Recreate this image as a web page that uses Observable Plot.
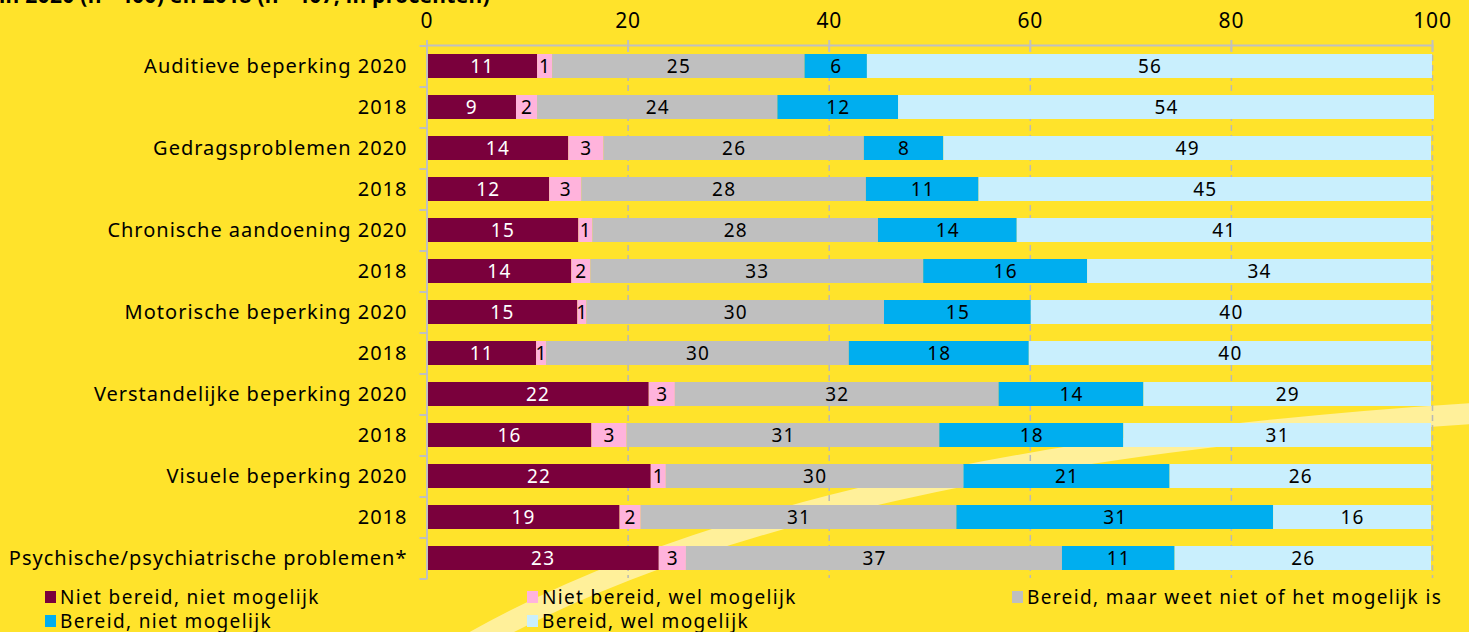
<!DOCTYPE html>
<html>
<head>
<meta charset="utf-8">
<script src="https://cdn.jsdelivr.net/npm/d3@7"></script>
<script src="https://cdn.jsdelivr.net/npm/@observablehq/plot@0.6"></script>
<style>
  html, body { margin: 0; padding: 0; background: #FFE32B; width: 1469px; height: 632px; overflow: hidden; font-family: "Noto Sans", sans-serif; }
  #wrap { position: relative; width: 1469px; height: 632px; }
  #deco { position: absolute; left: 0; top: 0; }
  #title { position: absolute; left: -1px; top: -15px; font-weight: bold; font-size: 21px; line-height: 21px; letter-spacing: 0.3px; color: #000; white-space: nowrap; }
  #chart { position: absolute; left: 0; top: 0; }
  .lg { position: absolute; font-size: 19px; line-height: 20px; height: 20px; letter-spacing: 1.35px; color: #000; white-space: nowrap; display: flex; align-items: center; }
  .sw { display: inline-block; width: 11px; height: 12px; margin-right: 4px; }
  #chart g[aria-label="y-axis tick label"] text { letter-spacing: 1.0px; }
  #chart g[aria-label="x-axis tick label"] text { letter-spacing: 0.8px; }
  #chart g[aria-label="text"] text { letter-spacing: 1.2px; }
</style>
</head>
<body>
<div id="wrap">
  <svg id="deco" width="1469" height="632"><path d="M 468 645 Q 800 455 1480 413" fill="none" stroke="#FFF09A" stroke-width="21"/></svg>
  <div id="title">in 2020 (n= 400) en 2018 (n= 407, in procenten)</div>
  <div id="chart"></div>
  <div id="legend"></div>
</div>
<script>
// Row labels (top to bottom)
const rowLabels = [
  "Auditieve beperking 2020", "2018",
  "Gedragsproblemen 2020", "2018",
  "Chronische aandoening 2020", "2018",
  "Motorische beperking 2020", "2018",
  "Verstandelijke beperking 2020", "2018",
  "Visuele beperking 2020", "2018",
  "Psychische/psychiatrische problemen*"
];

// Series names
const seriesNames = [
  "Niet bereid, niet mogelijk",
  "Niet bereid, wel mogelijk",
  "Bereid, maar weet niet of het mogelijk is",
  "Bereid, niet mogelijk",
  "Bereid, wel mogelijk"
];
const seriesColors = ["#7A003C", "#FFB3DC", "#BFBFBF", "#00AEEF", "#C9EFFD"];

// Bar lengths (percent, as drawn)
const nietNiet   = [11.0, 8.9, 14.1, 12.2, 15.1, 14.4, 15.0, 10.9, 22.1, 16.4, 22.3, 19.2, 23.1];
const nietWel    = [1.5, 2.1, 3.5, 3.2, 1.4, 1.9, 0.9, 1.0, 2.6, 3.5, 1.5, 2.1, 2.7];
const weetNiet   = [25.1, 23.9, 25.9, 28.3, 28.4, 33.1, 29.6, 30.1, 32.2, 31.1, 29.6, 31.4, 37.4];
const bereidNiet = [6.2, 12.0, 7.9, 11.2, 13.8, 16.3, 14.6, 17.9, 14.4, 18.3, 20.5, 31.5, 11.2];
const bereidWel  = [56.2, 53.3, 48.5, 45.0, 41.2, 34.2, 39.8, 40.0, 28.6, 30.6, 26.0, 15.7, 25.5];

// Printed (rounded) labels
const lblNietNiet   = [11, 9, 14, 12, 15, 14, 15, 11, 22, 16, 22, 19, 23];
const lblNietWel    = [1, 2, 3, 3, 1, 2, 1, 1, 3, 3, 1, 2, 3];
const lblWeetNiet   = [25, 24, 26, 28, 28, 33, 30, 30, 32, 31, 30, 31, 37];
const lblBereidNiet = [6, 12, 8, 11, 14, 16, 15, 18, 14, 18, 21, 31, 11];
const lblBereidWel  = [56, 54, 49, 45, 41, 34, 40, 40, 29, 31, 26, 16, 26];

const xTicks = [0, 20, 40, 60, 80, 100];

// Build table
const valueArrays = [nietNiet, nietWel, weetNiet, bereidNiet, bereidWel];
const labelArrays = [lblNietNiet, lblNietWel, lblWeetNiet, lblBereidNiet, lblBereidWel];
const rowKeys = rowLabels.map((l, i) => i);
const data = [];
rowKeys.forEach((r, i) => {
  seriesNames.forEach((s, j) => {
    data.push({row: r, series: s, si: j, value: valueArrays[j][i], label: labelArrays[j][i]});
  });
});

const chart = Plot.plot({
  width: 1469,
  height: 580,
  marginLeft: 426.5,
  marginRight: 37,
  marginTop: 45,
  marginBottom: 2,
  style: {background: "transparent", fontFamily: "'Noto Sans', sans-serif", color: "#000"},
  x: {domain: [0, 100], label: null},
  y: {domain: rowKeys, paddingInner: 0.415, paddingOuter: 0.2075, label: null},
  color: {domain: seriesNames, range: seriesColors},
  marks: [
    Plot.gridX(xTicks.slice(1), {stroke: "#b8b8b8", strokeOpacity: 1, strokeWidth: 1.5, strokeDasharray: "6,4"}),
    Plot.barX(data, Plot.stackX({x: "value", y: "row", fill: "series", order: null})),
    Plot.text(data, Plot.stackX({x: "value", y: "row", z: "series", order: null, text: "label",
      fill: d => d.si === 0 ? "white" : "black", fontSize: 19})),
    Plot.frame({anchor: "top", stroke: "#c0c0c0", strokeWidth: 2}),
    Plot.frame({anchor: "left", stroke: "#c0c0c0", strokeWidth: 2}),
    Plot.ruleY(rowKeys, {y: d => d, dy: -20.5, x1: 0, x2: 0, insetLeft: -7, stroke: "#c0c0c0", strokeWidth: 2}),
    Plot.ruleY(rowKeys.slice(-1), {y: d => d, dy: 20.5, x1: 0, x2: 0, insetLeft: -7, stroke: "#c0c0c0", strokeWidth: 2}),
    Plot.axisX({anchor: "top", ticks: xTicks, tickSize: 12, dy: 6, tickPadding: 12, stroke: "#c0c0c0", strokeWidth: 2, fontSize: 21, fill: "#000", label: null}),
    Plot.axisY({anchor: "left", tickSize: 0, tickPadding: 19.5, tickFormat: i => rowLabels[i], fontSize: 20, fill: "#000", label: null})
  ]
});
document.getElementById("chart").appendChild(chart);

// Legend (HTML, below the SVG)
const legend = document.getElementById("legend");
const colX = [45, 527, 1012];
const rowY = [587, 611];
seriesNames.forEach((s, j) => {
  const item = document.createElement("div");
  item.className = "lg";
  item.style.left = colX[j % 3] + "px";
  item.style.top = rowY[Math.floor(j / 3)] + "px";
  const sw = document.createElement("span");
  sw.className = "sw";
  sw.style.background = seriesColors[j];
  item.appendChild(sw);
  item.appendChild(document.createTextNode(s));
  legend.appendChild(item);
});
</script>
</body>
</html>
